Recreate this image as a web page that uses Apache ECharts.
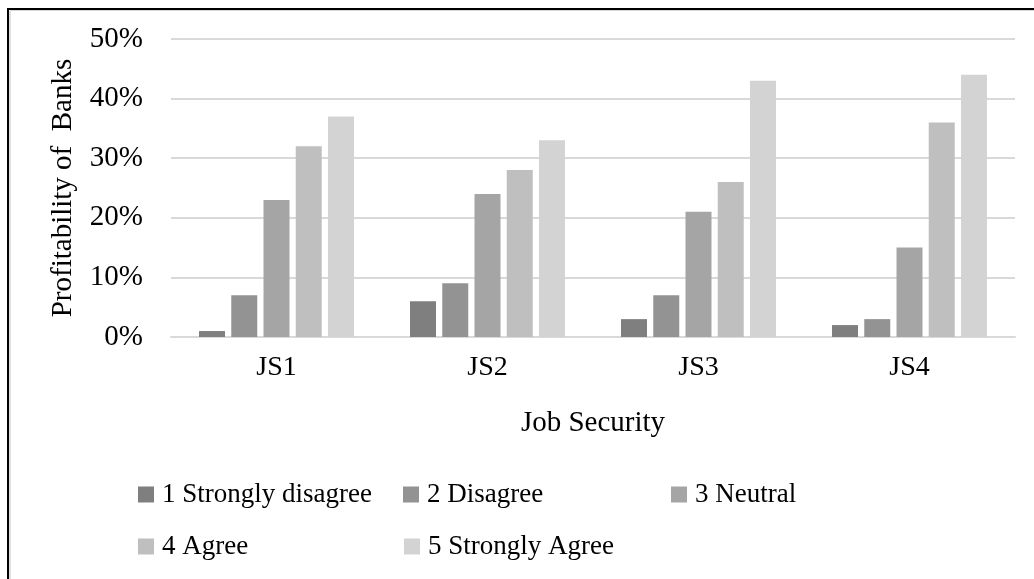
<!DOCTYPE html>
<html>
<head>
<meta charset="utf-8">
<title>Profitability of Banks by Job Security</title>
<script src="https://cdn.jsdelivr.net/npm/echarts@6/dist/echarts.min.js"></script>
<style>
  html, body { margin: 0; padding: 0; background: #fff; }
  #chart { width: 1034px; height: 579px; }
</style>
</head>
<body>
<div id="chart"></div>
<script>
// Survey items on the category axis
const categories = ['JS1', 'JS2', 'JS3', 'JS4'];

// Share of responses (%) per answer level
const stronglyDisagree = [1, 6, 3, 2];
const disagree         = [7, 9, 7, 3];
const neutral          = [23, 24, 21, 15];
const agree            = [32, 28, 26, 36];
const stronglyAgree    = [37, 33, 43, 44];

const seriesNames = ['1 Strongly disagree', '2 Disagree', '3 Neutral', '4 Agree', '5 Strongly Agree'];
const seriesValues = [stronglyDisagree, disagree, neutral, agree, stronglyAgree];

// Value axis ticks
const yTicks = [0, 10, 20, 30, 40, 50];

const palette = ['#7f7f7f', '#939393', '#a5a5a5', '#bfbfbf', '#d3d3d3'];
const FONT = "'Liberation Serif', 'DejaVu Serif', serif";

// Legend laid out as a two-row grid: one legend block per entry
const legendSlots = [
  { left: 138, top: 481 },
  { left: 403, top: 481 },
  { left: 671, top: 481 },
  { left: 138, top: 533 },
  { left: 404, top: 533 }
];

const chart = echarts.init(document.getElementById('chart'), null, { renderer: 'canvas' });

chart.setOption({
  animation: false,
  backgroundColor: '#fff',
  color: palette,
  textStyle: { fontFamily: FONT },
  grid: { left: 171, right: 19, top: 39, bottom: 242, containLabel: false },
  legend: seriesNames.map((name, i) => ({
    data: [name],
    left: legendSlots[i].left,
    top: legendSlots[i].top,
    padding: 0,
    icon: 'rect',
    itemWidth: 16,
    itemHeight: 16,
    selectedMode: false,
    textStyle: { fontFamily: FONT, fontSize: 27, color: '#000', padding: [0, 0, 0, 3] }
  })),
  xAxis: {
    type: 'category',
    data: categories,
    name: 'Job Security',
    nameLocation: 'middle',
    nameGap: 72,
    nameTextStyle: { fontFamily: FONT, fontSize: 29, color: '#000' },
    axisLine: { lineStyle: { color: '#d9d9d9', width: 2 } },
    axisTick: { show: false },
    axisLabel: { fontFamily: FONT, fontSize: 28, color: '#000', margin: 17 }
  },
  yAxis: {
    type: 'value',
    min: yTicks[0],
    max: yTicks[yTicks.length - 1],
    interval: 10,
    name: 'Profitability of  Banks',
    nameLocation: 'middle',
    nameGap: 93,
    nameTextStyle: { fontFamily: FONT, fontSize: 29, color: '#000' },
    axisLine: { show: false },
    axisTick: { show: false },
    axisLabel: { fontFamily: FONT, fontSize: 29, color: '#000', margin: 28, formatter: '{value}%' },
    splitLine: { lineStyle: { color: '#d9d9d9', width: 2 } }
  },
  series: seriesNames.map((name, i) => ({
    name: name,
    type: 'bar',
    data: seriesValues[i],
    barWidth: 26,
    barGap: '24%',
    itemStyle: { color: palette[i] }
  })),
  graphic: [
    {
      type: 'rect',
      shape: { x: 8, y: 9, width: 1200, height: 800 },
      style: { fill: 'none', stroke: '#000', lineWidth: 2 },
      silent: true
    },
    {
      type: 'line',
      shape: { x1: 10, y1: 11, x2: 10, y2: 800 },
      style: { stroke: '#d6d6d6', lineWidth: 1.5 },
      silent: true
    },
    {
      type: 'line',
      shape: { x1: 10, y1: 10.5, x2: 1200, y2: 10.5 },
      style: { stroke: '#d6d6d6', lineWidth: 1 },
      silent: true
    }
  ]
});
</script>
</body>
</html>
